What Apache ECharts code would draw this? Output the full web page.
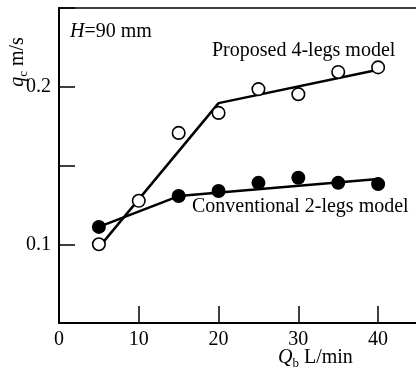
<!DOCTYPE html>
<html>
<head>
<meta charset="utf-8">
<script src="https://cdn.jsdelivr.net/npm/echarts@6/dist/echarts.min.js"></script>
<style>
  html, body { margin: 0; padding: 0; background: #fff; }
  #chart { width: 416px; height: 377px; }
</style>
</head>
<body>
<div id="chart"></div>
<script>
// Q_b flow rate (L/min)
var qbProposed = [5, 10, 15, 20, 25, 30, 35, 40];
var qcProposed = [0.100, 0.1276, 0.1707, 0.1834, 0.1985, 0.1953, 0.2094, 0.2123];
var qbConventional = [5, 15, 20, 25, 30, 35, 40];
var qcConventional = [0.111, 0.1306, 0.1338, 0.139, 0.1422, 0.139, 0.1382];
// fitted lines (breakpoints)
var fitProposedX = [5, 20, 40];
var fitProposedY = [0.098, 0.1896, 0.2108];
var fitConventionalX = [5, 15, 40];
var fitConventionalY = [0.111, 0.1306, 0.1415];
var xTickLabels = ["0", "10", "20", "30", "40"];
var yTickLabels = ["0.1", "0.2"];

function zip(xs, ys) {
  return xs.map(function (x, i) { return [x, ys[i]]; });
}

var font = "'Liberation Serif', 'DejaVu Serif', serif";
var chart = echarts.init(document.getElementById("chart"));

var option = {
  backgroundColor: "#fff",
  animation: false,
  grid: {
    left: 59,
    top: 8,
    width: 359,
    height: 315,
    outerBoundsMode: "none",
    containLabel: false,
    show: true,
    borderColor: "#000",
    borderWidth: 1.5,
  },
  xAxis: {
    type: "value",
    min: 0,
    max: 45,
    interval: 10,
    splitLine: { show: false },
    axisLine: { lineStyle: { color: "#000", width: 2 } },
    axisTick: { inside: true, length: 17, lineStyle: { color: "#000", width: 1.5 } },
    axisLabel: {
      color: "#000",
      fontSize: 20,
      fontFamily: font,
      margin: 7,
      formatter: function (v) {
        var s = String(Math.round(v));
        return xTickLabels.indexOf(s) >= 0 ? s : "";
      },
    },
  },
  yAxis: {
    type: "value",
    min: 0.05,
    max: 0.25,
    interval: 0.05,
    splitLine: { show: false },
    axisLine: { lineStyle: { color: "#000", width: 2 } },
    axisTick: { inside: true, length: 16, lineStyle: { color: "#000", width: 1.5 } },
    axisLabel: {
      color: "#000",
      fontSize: 20,
      fontFamily: font,
      margin: 8,
      formatter: function (v) {
        var s = v.toFixed(2).replace(/0$/, "");
        return yTickLabels.indexOf(s) >= 0 ? s : "";
      },
    },
  },
  graphic: [
    {
      type: "text",
      left: 70,
      top: 22,
      style: {
        text: "{i|H}=90 mm",
        font: "20px " + font,
        fill: "#000",
        rich: { i: { fontStyle: "italic", fontSize: 20, fontFamily: font } },
      },
    },
    {
      type: "text",
      left: 212,
      top: 41,
      style: { text: "Proposed 4-legs model", font: "20px " + font, fill: "#000" },
    },
    {
      type: "text",
      left: 192,
      top: 197,
      style: { text: "Conventional 2-legs model", font: "20px " + font, fill: "#000" },
    },
    {
      type: "text",
      x: 18,
      y: 62,
      rotation: Math.PI / 2,
      style: {
        text: "{q|q}{s|c} m/s",
        font: "20px " + font,
        fill: "#000",
        align: "center",
        verticalAlign: "middle",
        rich: {
          q: { fontStyle: "italic", fontSize: 20, fontFamily: font, lineHeight: 24 },
          s: { fontSize: 13, fontFamily: font, verticalAlign: "bottom", lineHeight: 18 },
        },
      },
    },
    {
      type: "text",
      left: 278,
      top: 348,
      style: {
        text: "{q|Q}{s|b} L/min",
        font: "20px " + font,
        fill: "#000",
        rich: {
          q: { fontStyle: "italic", fontSize: 20, fontFamily: font, lineHeight: 24 },
          s: { fontSize: 13, fontFamily: font, verticalAlign: "bottom", lineHeight: 18 },
        },
      },
    },
  ],
  series: [
    {
      name: "fit proposed",
      type: "line",
      data: zip(fitProposedX, fitProposedY),
      symbol: "none",
      lineStyle: { color: "#000", width: 2.5 },
      z: 2,
    },
    {
      name: "fit conventional",
      type: "line",
      data: zip(fitConventionalX, fitConventionalY),
      symbol: "none",
      lineStyle: { color: "#000", width: 2.5 },
      z: 2,
    },
    {
      name: "Conventional 2-legs model",
      type: "scatter",
      data: zip(qbConventional, qcConventional),
      symbol: "circle",
      symbolSize: 14,
      itemStyle: { color: "#000", opacity: 1 },
      z: 3,
    },
    {
      name: "Proposed 4-legs model",
      type: "scatter",
      data: zip(qbProposed, qcProposed),
      symbol: "circle",
      symbolSize: 12.5,
      itemStyle: { color: "#fff", borderColor: "#000", borderWidth: 1.6, opacity: 1 },
      z: 4,
    },
  ],
};

chart.setOption(option);
</script>
</body>
</html>
